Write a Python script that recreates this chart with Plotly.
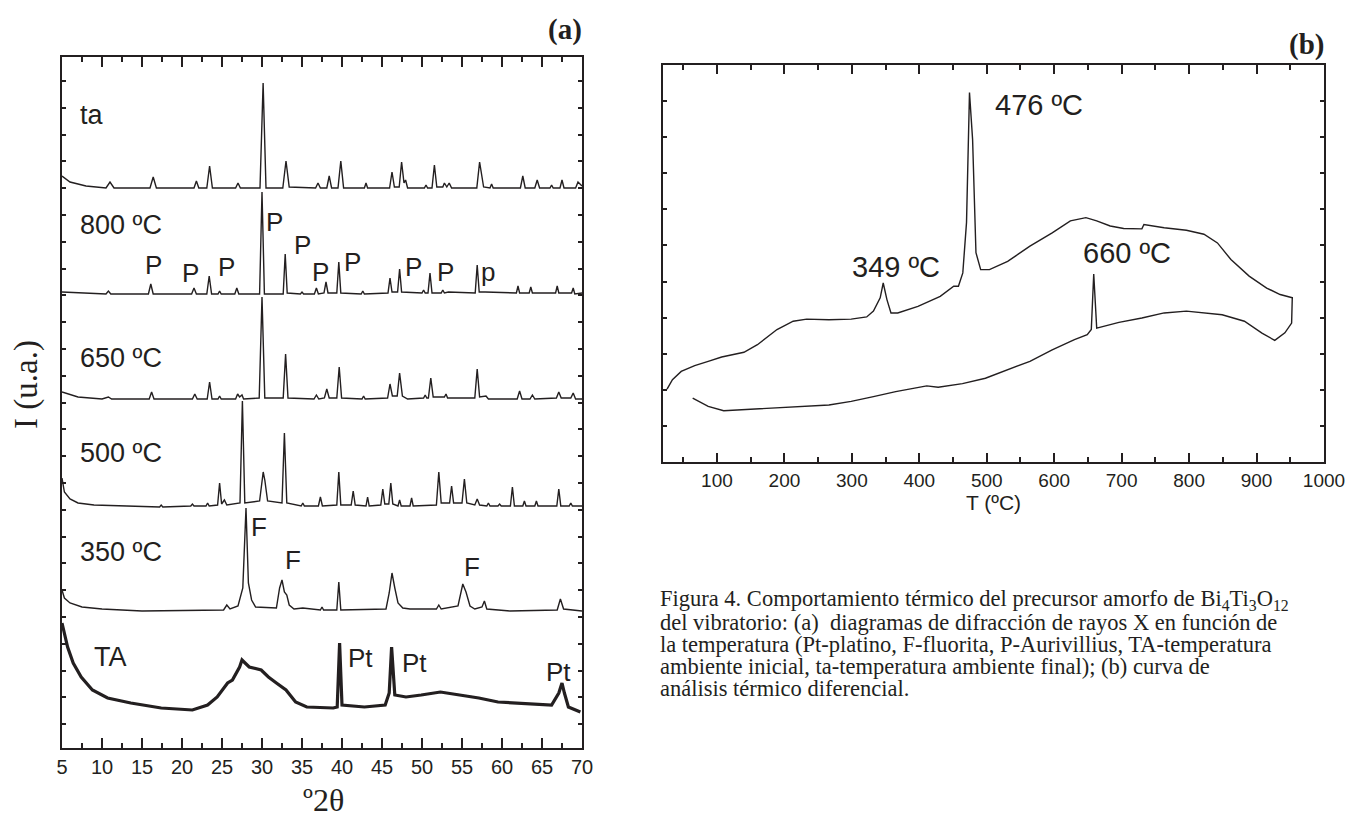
import plotly.graph_objects as go

W, H = 1351, 823

# ---------------- Panel (a): XRD patterns (2theta, intensity offset units) ----------------
tth_ta = [5.0, 6.0, 8.0, 10.5, 11.0, 11.5, 16.0, 16.4, 16.8, 21.5, 21.8, 22.1, 23.1, 23.45, 23.8,
          26.7, 27.0, 27.3, 29.75, 30.14, 30.5, 32.6, 33.0, 33.4, 36.7, 37.0, 37.3, 38.1, 38.4, 38.7,
          39.5, 39.85, 40.2, 42.8, 43.0, 43.2, 45.95, 46.25, 46.55, 47.15, 47.45, 47.75, 47.95, 48.2,
          50.3, 50.5, 50.7, 51.25, 51.55, 51.85, 52.6, 52.8, 53.1, 53.4, 53.7, 56.85, 57.2, 57.45,
          57.7, 58.5, 58.7, 58.9, 62.3, 62.6, 62.9, 64.1, 64.4, 64.7, 66.0, 66.2, 66.4, 67.25, 67.5,
          67.75, 69.2, 69.5, 70.0]
I_ta = [572, 566, 562, 560, 566, 560, 560, 571, 560, 560, 567, 560, 560, 582, 560,
        560, 565, 560, 560, 665, 560, 560, 587, 561, 560, 565, 560, 560, 572, 560,
        560, 587, 560, 560, 565, 560, 560, 576, 561, 561, 586, 565, 568, 560,
        560, 563, 560, 560, 583, 561, 561, 565, 561, 565, 560, 560, 586, 575,
        561, 560, 564, 560, 560, 572, 560, 560, 568, 560, 560, 563, 560, 560, 568,
        560, 560, 566, 562]

tth_800 = [5.0, 10.5, 10.8, 11.1, 15.8, 16.1, 16.4, 21.2, 21.5, 21.8, 23.1, 23.4, 23.7, 24.5, 24.7,
           24.9, 26.6, 26.85, 27.1, 29.7, 30.0, 30.3, 32.65, 32.9, 33.15, 34.8, 35.0, 35.2, 36.55,
           36.8, 37.05, 37.75, 38.0, 38.25, 39.35, 39.6, 39.85, 42.4, 42.6, 42.8, 45.75, 46.0, 46.25,
           46.95, 47.2, 47.45, 50.0, 50.2, 50.4, 50.75, 51.0, 51.25, 52.4, 52.6, 52.8, 53.3, 56.65,
           56.9, 57.15, 57.9, 61.8, 62.0, 62.2, 63.4, 63.6, 63.8, 66.7, 66.9, 67.1, 68.7, 68.9, 69.1, 70.0]
I_800 = [456, 454, 457, 454, 454, 464, 454, 454, 460, 454, 454, 472, 454, 454, 457,
         454, 454, 460, 454, 454, 556, 454, 454, 494, 455, 454, 456, 454, 454,
         460, 454, 455, 466, 455, 455, 486, 455, 454, 457, 454, 455, 470, 456,
         456, 479, 456, 455, 458, 455, 455, 475, 455, 455, 458, 455, 456, 455,
         483, 456, 456, 455, 462, 455, 455, 461, 455, 455, 462, 455, 455, 460, 454, 455]

tth_650 = [5.0, 7.0, 10.0, 10.8, 11.2, 15.9, 16.2, 16.5, 21.3, 21.6, 21.9, 23.15, 23.45, 23.75, 24.5,
           24.7, 24.9, 26.7, 26.95, 27.2, 27.5, 27.7, 29.65, 30.0, 30.35, 32.65, 32.95, 33.25, 36.5,
           36.8, 37.1, 37.8, 38.1, 38.4, 39.35, 39.65, 39.95, 42.5, 42.7, 42.9, 45.7, 46.0, 46.3,
           46.9, 47.2, 47.55, 48.2, 50.2, 50.4, 50.6, 50.8, 51.1, 51.4, 52.8, 53.0, 53.2, 56.6, 56.9,
           57.2, 58.0, 58.3, 61.9, 62.2, 62.5, 63.5, 63.8, 64.1, 66.8, 67.1, 67.4, 68.6, 68.9, 69.2, 70.0]
I_650 = [356, 351, 349, 351, 349, 349, 356, 349, 349, 354, 349, 349, 366, 349, 349,
         352, 349, 349, 354, 351, 353, 349, 350, 451, 350, 350, 394, 350, 349,
         353, 349, 350, 359, 350, 350, 381, 350, 349, 352, 349, 350, 364, 352,
         352, 375, 352, 349, 350, 353, 350, 350, 370, 351, 351, 354, 350, 350, 379,
         351, 352, 349, 349, 357, 349, 349, 353, 349, 350, 356, 350, 350, 355, 349, 349]

tth_500 = [5.0, 5.3, 6.0, 7.0, 9.0, 12.0, 17.2, 17.4, 17.6, 21.1, 21.3, 21.5, 23.0, 23.2, 23.4,
           24.45, 24.7, 24.95, 25.3, 25.6, 27.25, 27.55, 27.85, 29.7, 30.0, 30.15, 30.35, 30.7,
           32.5, 32.8, 33.1, 34.9, 35.1, 35.3, 37.05, 37.3, 37.55, 39.35, 39.6, 39.85, 41.15, 41.4,
           41.65, 43.0, 43.2, 43.4, 44.85, 45.1, 45.35, 45.85, 46.1, 46.35, 47.0, 47.2, 47.4, 48.5,
           48.7, 48.9, 51.8, 52.1, 52.4, 53.45, 53.7, 53.95, 55.0, 55.3, 55.6, 56.6, 56.9, 57.2,
           58.1, 58.3, 58.5, 59.5, 59.7, 59.9, 61.05, 61.3, 61.55, 62.6, 62.8, 63.0, 64.1, 64.3,
           64.5, 66.85, 67.1, 67.35, 68.4, 68.6, 68.8, 70.0]
I_500 = [270, 256, 249, 245, 243, 242, 241, 243, 241, 242, 244, 242, 242, 245, 242,
         243, 265, 244, 248, 243, 245, 347, 245, 247, 268, 276, 268, 247,
         245, 315, 245, 242, 245, 242, 242, 251, 242, 243, 276, 243, 243, 257,
         243, 242, 251, 242, 243, 259, 244, 244, 265, 244, 242, 248, 242, 242,
         250, 242, 243, 276, 245, 245, 262, 245, 245, 269, 245, 243, 249, 243,
         242, 245, 242, 242, 244, 242, 242, 261, 242, 242, 247, 242, 242, 247,
         242, 242, 259, 242, 242, 245, 242, 242]

tth_350 = [5.0, 5.3, 6.0, 7.5, 10.0, 15.0, 25.2, 25.6, 26.0, 27.0, 27.6, 28.0, 28.3, 28.7, 29.2,
           31.8, 32.2, 32.5, 32.8, 33.1, 33.4, 34.0, 35.1, 37.3, 37.5, 37.7, 39.35, 39.6, 39.85,
           45.5, 45.9, 46.25, 46.6, 47.0, 47.6, 48.5, 51.8, 52.1, 52.4, 54.5, 55.1, 55.5, 56.0,
           56.6, 57.5, 57.8, 58.1, 61.0, 66.9, 67.3, 67.7, 70.0]
I_350 = [158, 150, 145, 141, 139, 137, 138, 143, 139, 142, 160, 240, 165, 148, 141,
         140, 160, 168, 156, 153, 143, 139, 140, 138, 141, 138, 138, 166, 138,
         139, 155, 175, 160, 145, 140, 139, 139, 143, 139, 142, 164, 156, 142,
         139, 141, 147, 139, 137, 138, 149, 139, 137]

tth_TA = [5.0, 5.7, 6.4, 7.4, 8.8, 10.7, 13.6, 17.4, 21.3, 23.2, 24.4, 25.3, 25.7, 26.3, 27.2,
          27.5, 28.4, 29.9, 30.8, 31.8, 33.0, 34.2, 35.6, 38.9, 39.4, 39.7, 40.0, 42.8, 45.4,
          45.9, 46.2, 46.6, 48.0, 49.9, 52.3, 54.7, 57.1, 59.5, 61.9, 66.2, 67.1, 67.5, 67.8,
          68.3, 69.8]
I_TA = [125, 101, 85, 71, 58, 50, 45, 40, 38, 43, 51, 61, 65, 68, 81,
        88, 81, 78, 71, 65, 58, 46, 41, 40, 41, 105, 43, 41, 43,
        55, 101, 53, 51, 53, 56, 53, 50, 46, 45, 43, 55, 65, 55,
        41, 36]

# Pattern names and label positions (2theta, intensity)
pattern_names = ["ta", "800 ºC", "650 ºC", "500 ºC", "350 ºC", "TA"]
pattern_label_y = [633, 523, 390, 295, 196, 91]
P_tth = [16.4, 21.1, 25.5, 31.6, 35.0, 37.3, 41.3, 48.9, 52.9, 58.3]
P_I = [483, 475, 481, 526, 503, 476, 486, 481, 476, 476]
P_txt = ["P", "P", "P", "P", "P", "P", "P", "P", "P", "p"]
F_tth = [29.6, 33.9, 56.3]
F_I = [221, 188, 181]
Pt_tth = [42.3, 49.0, 67.1]
Pt_I = [90, 85, 76]

# ---------------- Panel (b): DTA curve (T, signal) ----------------
T_dta = [26, 34, 47, 67, 87, 107, 140, 160, 189, 213, 233, 266, 299, 322, 332, 342, 346.5, 352,
         358, 368, 398, 431, 451, 458, 464.5, 470, 474.4, 479, 484, 491, 504, 531, 564, 597, 624,
         647, 663, 683, 703, 730, 733, 763, 796, 822, 842, 862, 889, 915, 935, 953, 953, 952, 942,
         927, 908, 882, 849, 796, 763, 730, 696, 663, 658.6, 655, 649, 630, 597, 564, 531, 498,
         464, 431, 428, 411, 398, 365, 332, 299, 266, 199, 153, 110, 87, 64]
S_dta = [2.02, 2.28, 2.51, 2.67, 2.79, 2.91, 3.04, 3.25, 3.67, 3.90, 3.96, 3.94, 3.96, 4.02, 4.18,
         4.55, 4.96, 4.50, 4.13, 4.13, 4.31, 4.59, 4.87, 4.87, 5.24, 6.64, 10.24, 8.94, 5.80, 5.33,
         5.33, 5.56, 5.98, 6.35, 6.68, 6.77, 6.68, 6.54, 6.47, 6.46, 6.58, 6.49, 6.42, 6.31, 6.07,
         5.61, 5.15, 4.82, 4.64, 4.55, 4.57, 3.85, 3.58, 3.37, 3.57, 3.90, 4.08, 4.18, 4.13, 3.99,
         3.87, 3.71, 5.21, 3.67, 3.53, 3.39, 3.11, 2.79, 2.56, 2.32, 2.17, 2.09, 2.07, 2.11, 2.07,
         1.95, 1.81, 1.68, 1.58, 1.51, 1.46, 1.42, 1.54, 1.77]
dta_labels = ["476 ºC", "349 ºC", "660 ºC"]
dta_label_T = [509, 297, 640]
dta_label_S = [9.88, 5.39, 5.80]

caption_lines = [
    "Figura 4. Comportamiento térmico del precursor amorfo de Bi<sub>4</sub>Ti<sub>3</sub>O<sub>12</sub>",
    "del vibratorio: (a)  diagramas de difracción de rayos X en función de",
    "la temperatura (Pt-platino, F-fluorita, P-Aurivillius, TA-temperatura",
    "ambiente inicial, ta-temperatura ambiente final); (b) curva de",
    "análisis térmico diferencial.",
]

# ---------------- figure ----------------
INK = "#231f20"
SANS = "Liberation Sans, Arial, sans-serif"
SERIF = "Liberation Serif, Times New Roman, serif"


def px_x(p):
    """window pixel -> paper fraction"""
    return p / W


def px_y(p):
    return 1 - p / H


fig = go.Figure()
for xs, ys, wdt in [(tth_ta, I_ta, 1.4), (tth_800, I_800, 1.4), (tth_650, I_650, 1.4),
                    (tth_500, I_500, 1.4), (tth_350, I_350, 1.4), (tth_TA, I_TA, 3.2)]:
    fig.add_trace(go.Scatter(x=xs, y=ys, mode="lines", line=dict(color=INK, width=wdt),
                             xaxis="x", yaxis="y", showlegend=False, hoverinfo="skip"))

fig.add_trace(go.Scatter(x=T_dta, y=S_dta, mode="lines", line=dict(color=INK, width=1.4),
                         xaxis="x2", yaxis="y2", showlegend=False, hoverinfo="skip"))

# invisible traces so the mirrored tick axes get drawn
for xa, ya in [("x3", "y"), ("x", "y3"), ("x4", "y2"), ("x2", "y4")]:
    fig.add_trace(go.Scatter(x=[None], y=[None], mode="lines", xaxis=xa, yaxis=ya,
                             showlegend=False, hoverinfo="skip"))

ann = []
for name, yy in zip(pattern_names, pattern_label_y):
    ann.append(dict(x=7.0 if name != "TA" else 8.7, y=yy, xref="x", yref="y", text=name,
                    showarrow=False, xanchor="left", yanchor="middle",
                    font=dict(family=SANS, size=27, color=INK)))
for xs, ys, txts in [(P_tth, P_I, P_txt), (F_tth, F_I, ["F"] * 3), (Pt_tth, Pt_I, ["Pt"] * 3)]:
    for a, b, t in zip(xs, ys, txts):
        ann.append(dict(x=a, y=b, xref="x", yref="y", text=t, showarrow=False,
                        xanchor="center", yanchor="middle",
                        font=dict(family=SANS, size=26, color=INK)))
for t, a, b in zip(dta_labels, dta_label_T, dta_label_S):
    ann.append(dict(x=a, y=b, xref="x2", yref="y2", text=t, showarrow=False,
                    xanchor="left", yanchor="middle", font=dict(family=SANS, size=29, color=INK)))

ann.append(dict(x=px_x(584), y=px_y(29), xref="paper", yref="paper", text="<b>(a)</b>",
                showarrow=False, xanchor="right", yanchor="middle",
                font=dict(family=SERIF, size=29, color=INK)))
ann.append(dict(x=px_x(1326), y=px_y(45), xref="paper", yref="paper", text="<b>(b)</b>",
                showarrow=False, xanchor="right", yanchor="middle",
                font=dict(family=SERIF, size=29, color=INK)))
ann.append(dict(x=px_x(26), y=px_y(385), xref="paper", yref="paper", text="I (u.a.)",
                showarrow=False, textangle=-90, xanchor="center", yanchor="middle",
                font=dict(family=SERIF, size=33, color=INK)))
ann.append(dict(x=px_x(323), y=px_y(800), xref="paper", yref="paper", text="º2θ",
                showarrow=False, xanchor="center", yanchor="middle",
                font=dict(family=SERIF, size=32, color=INK)))
for i, line in enumerate(caption_lines):
    ann.append(dict(x=px_x(658), y=px_y(600 + 22 * i), xref="paper", yref="paper", text=line,
                    showarrow=False, xanchor="left", yanchor="middle",
                    font=dict(family=SERIF, size=22.5, color=INK)))

base = dict(showgrid=False, zeroline=False, showline=True, linecolor=INK, automargin=False,
            ticks="inside", tickcolor=INK)

xa_a = dict(range=[5, 70], tick0=5, dtick=5, ticklen=10, tickwidth=2, linewidth=2,
            minor=dict(dtick=2.5, ticklen=5, ticks="inside", tickcolor=INK, tickwidth=2))
ya_a = dict(range=[0, 691], tick0=-3, dtick=26.8, ticklen=4, tickwidth=1.5, linewidth=2,
            showticklabels=False)
xa_b = dict(range=[20, 1000], tick0=0, dtick=100, ticklen=9, tickwidth=1.5, linewidth=1.5,
            minor=dict(dtick=50, ticklen=5, ticks="inside", tickcolor=INK, tickwidth=1.5))
ya_b = dict(range=[0, 11], tick0=0, dtick=1, ticklen=4, tickwidth=1.5, linewidth=1.5,
            showticklabels=False)

dom_xa = [px_x(62), px_x(582)]
dom_ya = [px_y(748), px_y(57)]
dom_xb = [px_x(663), px_x(1324)]
dom_yb = [px_y(462), px_y(65)]

fig.update_layout(
    width=W, height=H, margin=dict(l=0, r=0, t=0, b=0, autoexpand=False),
    paper_bgcolor="white", plot_bgcolor="white", showlegend=False,
    annotations=ann,
    xaxis=dict(**base, **xa_a, domain=dom_xa, anchor="y", mirror=True,
               ticklabeloverflow="allow",
               tickfont=dict(family=SANS, size=20, color=INK)),
    yaxis=dict(**base, **ya_a, domain=dom_ya, anchor="x", mirror=True),
    xaxis3=dict(**base, **xa_a, domain=dom_xa, anchor="y", overlaying="x", side="top",
                showticklabels=False),
    yaxis3=dict(**base, **ya_a, domain=dom_ya, anchor="x", overlaying="y", side="right"),
    xaxis2=dict(**base, **xa_b, domain=dom_xb, anchor="y2", mirror=True,
                ticklabeloverflow="allow",
                tickfont=dict(family=SANS, size=19, color=INK),
                title=dict(text="T (ºC)", font=dict(family=SANS, size=21, color=INK), standoff=4)),
    yaxis2=dict(**base, **ya_b, domain=dom_yb, anchor="x2", mirror=True),
    xaxis4=dict(**base, **xa_b, domain=dom_xb, anchor="y2", overlaying="x2", side="top",
                showticklabels=False),
    yaxis4=dict(**base, **ya_b, domain=dom_yb, anchor="x2", overlaying="y2", side="right"),
)

# place the figure at the window's top-left corner (no default 8px page margin)
fig.write_html("out.html", config={"displayModeBar": False},
               post_script="document.body.style.margin='0';document.body.style.overflow='hidden';")
